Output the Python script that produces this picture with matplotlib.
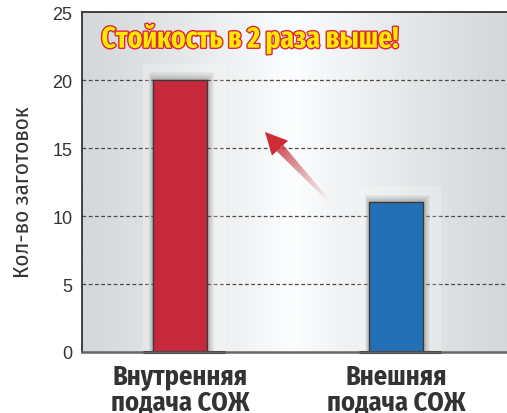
import numpy as np
import matplotlib
matplotlib.use("Agg")
import matplotlib.pyplot as plt
import matplotlib.patheffects as pe
from matplotlib.patches import Rectangle, Polygon
from matplotlib.colors import LinearSegmentedColormap

categories = ["Внутренняя\nподача СОЖ", "Внешняя\nподача СОЖ"]
values = [20, 11]
bar_colors = ["#c7283b", "#2470b6"]
yticks = [0, 5, 10, 15, 20, 25]
ylabel = "Кол-во заготовок"
headline = "Стойкость в 2 раза выше!"

COND = ["Fira Sans Condensed", "PT Sans Narrow", "DejaVu Sans"]
XCOND = ["Fira Sans Extra Condensed", "Fira Sans Condensed", "PT Sans Narrow", "DejaVu Sans"]
HELV = ["Liberation Sans", "DejaVu Sans"]

W, H = 507, 414
fig = plt.figure(figsize=(W / 100, H / 100), dpi=100)
ax = fig.add_axes([82 / W, 61 / H, (W - 82 + 4) / W, 340 / H])

x = np.arange(len(categories))
X0, X1 = -0.453, 1.53
ax.set_xlim(X0, X1)
ax.set_ylim(0, 25)

# background gradient
gx = np.linspace(0, 1, 400)
center = 0.49
prof = np.where(gx < center, (gx / center) ** 1.2, ((1 - gx) / (1 - center)) ** 1.2)
cmap = LinearSegmentedColormap.from_list("bg", ["#d5d8da", "#fcfdfe"])
ax.imshow(prof[None, :], cmap=cmap, aspect="auto", extent=[X0, X1, 0, 25],
          zorder=0, vmin=0, vmax=1, interpolation="bilinear")

# grid
for yv in yticks[1:-1]:
    ax.axhline(yv, color="#4a4a4a", lw=0.9, ls=(0, (3, 2)), zorder=1)

width = 0.25
px = 1 / 216.5
py = 25 / 340
ax.bar(x, values, width=width, color=bar_colors, edgecolor="#3a3a3a",
       linewidth=1.0, zorder=5)

for xi, v in zip(x, values):
    # light halo box
    ax.add_patch(Rectangle((xi - width / 2 - 10 * px, 0), width + 28 * px, v + 16 * py,
                           facecolor="white", alpha=0.22, edgecolor="none", zorder=2))
    # soft shadow
    for k in range(7):
        d = k + 1
        ax.add_patch(Rectangle((xi - width / 2 - d * 0.6 * px, 0),
                               width + d * 1.6 * px, v + d * 1.1 * py,
                               facecolor="black", alpha=0.035, edgecolor="none", zorder=3))
    ax.plot([xi - width / 2 - 10 * px, xi + width / 2 + 18 * px], [0, 0], color="black",
            lw=2.2, zorder=6, solid_capstyle="butt", clip_on=False)

ax.spines["right"].set_visible(False)
ax.spines["top"].set_color("#333333")
ax.spines["top"].set_linewidth(1.3)
ax.spines["left"].set_color("#333333")
ax.spines["left"].set_linewidth(1.3)
ax.spines["bottom"].set_color("#666666")
ax.spines["bottom"].set_linewidth(1.8)
for sp in ax.spines.values():
    sp.set_zorder(7)

ax.set_yticks(yticks)
ax.set_yticklabels([str(t) for t in yticks], fontsize=13, color="#333333", family=HELV)
ax.tick_params(axis="y", length=0, pad=7)
ax.set_xticks(x)
ax.set_xticklabels(categories, fontsize=19, fontweight="bold", family=COND,
                   color="#333333", linespacing=0.95)
ax.tick_params(axis="x", length=0, pad=8)
ax.set_ylabel(ylabel, fontsize=16.5, family=COND, color="#333333")
ax.yaxis.set_label_coords(-49 / 429, (353 - 192) / 340)

# headline
fig.text(250 / W, 1 - 40 / H, headline, ha="center", va="center", fontsize=21.5,
         fontweight="bold", family=XCOND, color="#ffe800",
         path_effects=[pe.withStroke(linewidth=2.0, foreground="#d8283c")])

# arrow overlay in pixel coordinates
ov = fig.add_axes([0, 0, 1, 1], zorder=10)
ov.set_xlim(0, W)
ov.set_ylim(H, 0)
ov.axis("off")
ov.patch.set_alpha(0)
tip = np.array([265.0, 133.0])
tail = np.array([330.0, 203.0])
dv = tip - tail
L = np.hypot(*dv)
u = dv / L
n = np.array([-u[1], u[0]])
hl, hw = 22.0, 11.0
Ls = L - hl


def halfw(s):
    if s <= Ls:
        return 1.0 + 3.5 * (s / Ls)
    return hw * (L - s) / hl


def colr(t):
    a = min(1.0, (t / 0.75) ** 1.1)
    return (0.80, 0.17 + 0.25 * (1 - t), 0.22 + 0.25 * (1 - t), a)


N = 80
ss = np.linspace(0, Ls, N + 1)
for i in range(N):
    s0, s1 = ss[i], ss[i + 1]
    c0, c1 = tail + u * s0, tail + u * s1
    w0, w1 = halfw(s0), halfw(s1)
    quad = [c0 + n * w0, c1 + n * w1, c1 - n * w1, c0 - n * w0]
    ov.add_patch(Polygon(quad, closed=True, facecolor=colr((s0 + s1) / 2 / L),
                         edgecolor="none", zorder=10))
hb = tail + u * Ls
ov.add_patch(Polygon([hb + n * hw, tip, hb - n * hw], closed=True,
                     facecolor=colr(1.0), edgecolor="none", zorder=10))

fig.savefig("out.png", dpi=100)
